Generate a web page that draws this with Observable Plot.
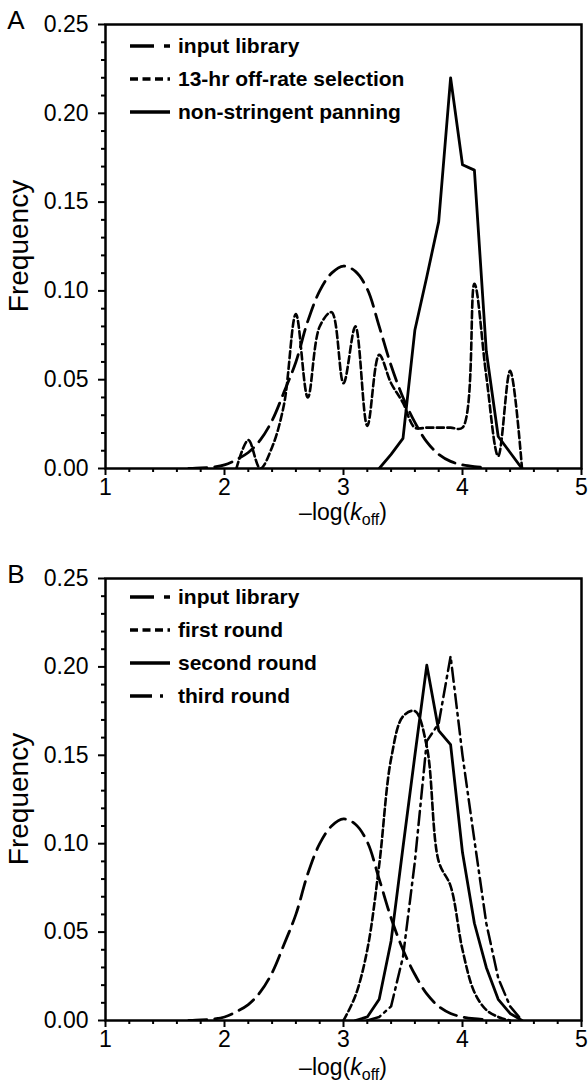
<!DOCTYPE html>
<html><head><meta charset="utf-8">
<script src="https://cdn.jsdelivr.net/npm/d3@7"></script>
<script src="https://cdn.jsdelivr.net/npm/@observablehq/plot@0.6"></script>
<style>
body{margin:0;background:#fff;font-family:"Liberation Sans",Arial,sans-serif;color:#000;}
.panel{position:relative;width:588px;}
.panel svg.plot{display:block;}
.letter{position:absolute;font-size:26px;line-height:1;transform:translate(-50%,-50%);}
.ytitle{position:absolute;font-size:28px;line-height:1;white-space:nowrap;transform:translate(-50%,-50%) rotate(-90deg);}
.xtitle{position:absolute;font-size:23px;line-height:1;white-space:nowrap;transform:translate(-50%,-50%);}
.xtitle sub{font-size:16px;vertical-align:-5px;line-height:0;}
.legend{position:absolute;left:130px;font-weight:bold;font-size:21px;}
.row{display:flex;align-items:center;height:33px;}
.row svg{margin-right:8px;}
</style>
</head><body>
<div id="root"></div>
<script>
// ---------- tick values ----------
const xTicks = [1, 2, 3, 4, 5];
const xMinor = [1.2, 1.4, 1.6, 1.8, 2.2, 2.4, 2.6, 2.8, 3.2, 3.4, 3.6, 3.8, 4.2, 4.4, 4.6, 4.8];
const yTicks = [0, 0.05, 0.10, 0.15, 0.20, 0.25];
const yMinor = [0.01, 0.02, 0.03, 0.04, 0.06, 0.07, 0.08, 0.09, 0.11, 0.12, 0.13, 0.14, 0.16, 0.17, 0.18, 0.19, 0.21, 0.22, 0.23, 0.24];

// ---------- series ----------
const inputX = [1.7, 1.8, 1.9, 2.0, 2.1, 2.2, 2.3, 2.4, 2.5, 2.6, 2.7, 2.8, 2.9, 3.0, 3.1, 3.2, 3.3, 3.4, 3.5, 3.6, 3.7, 3.8, 3.9, 4.0, 4.1, 4.2];
const inputY = [0, 0.0003, 0.0008, 0.002, 0.005, 0.009, 0.016, 0.027, 0.043, 0.060, 0.083, 0.100, 0.110, 0.114, 0.111, 0.101, 0.080, 0.058, 0.040, 0.026, 0.015, 0.008, 0.004, 0.002, 0.001, 0.0005];

const offrateX = [2.1, 2.2, 2.3, 2.4, 2.5, 2.6, 2.7, 2.8, 2.9, 3.0, 3.1, 3.2, 3.3, 3.4, 3.5, 3.6, 3.7, 3.8, 3.9, 4.0, 4.1, 4.2, 4.3, 4.4, 4.5];
const offrateY = [0, 0.016, 0, 0.012, 0.036, 0.087, 0.040, 0.080, 0.088, 0.048, 0.080, 0.024, 0.064, 0.048, 0.037, 0.023, 0.023, 0.023, 0.023, 0.023, 0.104, 0.052, 0.007, 0.055, 0];

const panningX = [3.3, 3.4, 3.5, 3.6, 3.7, 3.8, 3.9, 4.0, 4.1, 4.2, 4.3, 4.4, 4.5];
const panningY = [0, 0.008, 0.017, 0.078, 0.108, 0.139, 0.220, 0.171, 0.168, 0.066, 0.018, 0.009, 0];

const firstX = [3.0, 3.1, 3.2, 3.3, 3.4, 3.5, 3.6, 3.7, 3.8, 3.9, 4.0, 4.1, 4.2, 4.3, 4.4];
const firstY = [0, 0.014, 0.040, 0.088, 0.148, 0.172, 0.175, 0.155, 0.090, 0.076, 0.040, 0.016, 0.006, 0.002, 0];

const secondX = [3.1, 3.2, 3.3, 3.4, 3.5, 3.6, 3.7, 3.8, 3.9, 4.0, 4.1, 4.2, 4.3, 4.4, 4.5];
const secondY = [0, 0.002, 0.012, 0.045, 0.098, 0.150, 0.201, 0.164, 0.156, 0.095, 0.055, 0.030, 0.012, 0.004, 0];

const thirdX = [3.2, 3.3, 3.4, 3.5, 3.6, 3.7, 3.8, 3.9, 4.0, 4.1, 4.2, 4.3, 4.4, 4.5];
const thirdY = [0, 0.002, 0.008, 0.036, 0.090, 0.158, 0.168, 0.206, 0.150, 0.102, 0.055, 0.024, 0.008, 0];

// ---------- legend labels ----------
const legendA = ["input library", "13-hr off-rate selection", "non-stringent panning"];
const legendB = ["input library", "first round", "second round", "third round"];

const STYLES = {
  longdash: {dash: "18,8", legendDash: "24,10", curve: "catmull-rom", width: 2.8},
  shortdash: {dash: "7,3.5", legendDash: "8,4.5", curve: "catmull-rom", width: 2.6},
  solid: {dash: null, legendDash: null, curve: "linear", width: 2.8},
  dashdot: {dash: "14,5,2.5,5", legendDash: "22,8,3,8", curve: "linear", width: 2.5}
};

function makePanel(cfg) {
  const marks = [];
  for (const s of cfg.series) {
    const st = STYLES[s.style];
    marks.push(Plot.line(s.x.map((x, i) => ({x, y: s.y[i]})), {
      x: "x", y: "y", stroke: "black", strokeWidth: st.width,
      strokeDasharray: st.dash, curve: st.curve, clip: true
    }));
  }
  marks.push(
    Plot.axisX(xMinor, {tickSize: 4, strokeWidth: 2, tickFormat: () => "", label: null}),
    Plot.axisX(xTicks, {tickSize: 7, tickPadding: 3, strokeWidth: 2, fontSize: 23, tickFormat: d => String(d), label: null}),
    Plot.axisY(yMinor, {tickSize: 4, strokeWidth: 2, tickFormat: () => "", label: null}),
    Plot.axisY(yTicks, {tickSize: 7, tickPadding: 10, strokeWidth: 2, fontSize: 23, tickFormat: d => d.toFixed(2), label: null}),
    Plot.frame({stroke: "black", strokeWidth: 2.5})
  );
  const plot = Plot.plot({
    width: 588, height: cfg.height,
    marginTop: cfg.mt, marginBottom: cfg.mb, marginLeft: 105, marginRight: 7,
    x: {domain: [1, 5]}, y: {domain: [0, 0.25]},
    style: {fontFamily: '"Liberation Sans", Arial, sans-serif', color: "black", background: "white"},
    marks
  });
  plot.classList.add("plot");
  const div = document.createElement("div");
  div.className = "panel";
  div.style.height = cfg.height + "px";
  div.appendChild(plot);

  const letter = document.createElement("div");
  letter.className = "letter";
  letter.textContent = cfg.letter;
  letter.style.left = "16px"; letter.style.top = (cfg.mt - 4) + "px";
  div.appendChild(letter);

  const yt = document.createElement("div");
  yt.className = "ytitle";
  yt.textContent = "Frequency";
  yt.style.left = "19px";
  yt.style.top = (cfg.mt + (cfg.height - cfg.mt - cfg.mb) / 2) + "px";
  div.appendChild(yt);

  const xt = document.createElement("div");
  xt.className = "xtitle";
  xt.innerHTML = "\u2013log(<i>k</i><sub>off</sub>)";
  xt.style.left = "343px";
  xt.style.top = (cfg.height - cfg.mb + cfg.xtOffset) + "px";
  div.appendChild(xt);

  const lg = document.createElement("div");
  lg.className = "legend";
  lg.style.top = cfg.legendTop + "px";
  cfg.series.forEach((s, i) => {
    const st = STYLES[s.style];
    const row = document.createElement("div");
    row.className = "row";
    row.innerHTML = `<svg width="40" height="10"><line x1="0" x2="40" y1="5" y2="5" stroke="black" stroke-width="3.5" ${st.legendDash ? `stroke-dasharray="${st.legendDash}"` : ""}/></svg><span>${cfg.labels[i]}</span>`;
    lg.appendChild(row);
  });
  div.appendChild(lg);
  return div;
}

const root = document.getElementById("root");
root.appendChild(makePanel({
  letter: "A", height: 546, mt: 24, mb: 78, xtOffset: 44, legendTop: 29,
  labels: legendA,
  series: [
    {x: inputX, y: inputY, style: "longdash"},
    {x: offrateX, y: offrateY, style: "shortdash"},
    {x: panningX, y: panningY, style: "solid"}
  ]
}));
root.appendChild(makePanel({
  letter: "B", height: 546, mt: 32, mb: 72, xtOffset: 47, legendTop: 34,
  labels: legendB,
  series: [
    {x: inputX, y: inputY, style: "longdash"},
    {x: firstX, y: firstY, style: "shortdash"},
    {x: secondX, y: secondY, style: "solid"},
    {x: thirdX, y: thirdY, style: "dashdot"}
  ]
}));
</script>
</body></html>
